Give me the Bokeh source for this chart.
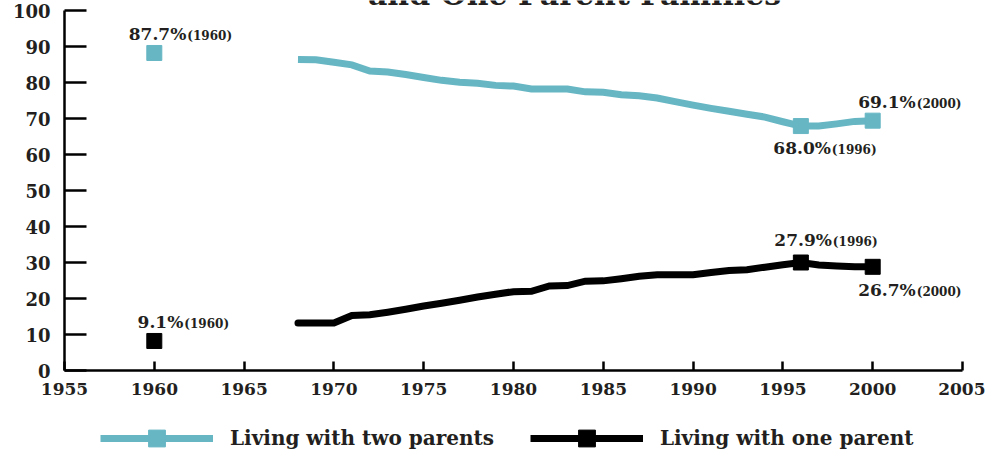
from bokeh.plotting import figure
from bokeh.layouts import column
from bokeh.models import Legend, LegendItem, FixedTicker, ColumnDataSource
from bokeh.core.properties import value
from bokeh.embed import file_html
from bokeh.resources import INLINE

# ---------------- data ----------------
years = list(range(1968, 2001))
two_parents = [86.4, 86.3, 85.6, 84.9, 83.2, 82.9, 82.2, 81.4, 80.6, 80.1, 79.8,
               79.2, 79.0, 78.2, 78.2, 78.2, 77.4, 77.3, 76.6, 76.3, 75.7, 74.7,
               73.7, 72.8, 72.0, 71.2, 70.4, 69.1, 67.9, 67.9, 68.5, 69.2, 69.4]
one_parent = [13.2, 13.2, 13.2, 15.3, 15.5, 16.2, 17.0, 17.9, 18.7, 19.5, 20.4,
              21.2, 21.9, 22.0, 23.5, 23.6, 24.8, 24.9, 25.5, 26.2, 26.6, 26.6,
              26.6, 27.2, 27.8, 28.0, 28.7, 29.4, 30.0, 29.3, 29.0, 28.8, 28.8]
two_1960 = 88.2
one_1960 = 8.2

marker_years = [1960, 1996, 2000]
two_markers = [two_1960, two_parents[years.index(1996)], two_parents[years.index(2000)]]
one_markers = [one_1960, one_parent[years.index(1996)], one_parent[years.index(2000)]]

ann_main = ["87.7%", "68.0%", "69.1%", "9.1%", "27.9%", "26.7%"]
ann_year = ["(1960)", "(1996)", "(2000)", "(1960)", "(1996)", "(2000)"]
ann_x = marker_years + marker_years
ann_y = two_markers + one_markers

x_ticks = [1955, 1960, 1965, 1970, 1975, 1980, 1985, 1990, 1995, 2000, 2005]
y_ticks = [0, 10, 20, 30, 40, 50, 60, 70, 80, 90, 100]

title_text = "and One Parent Families"
legend_labels = ["Living with two parents", "Living with one parent"]

# ---------------- style ----------------
TEAL = "#66B6C4"
DARK = "#231F20"
FONT = "DejaVu Serif"
ann_dx = [32, 30, 43, 29, 31, 43]
ann_dy = [-19, 22, -19, -18.5, -23, 23.5]

# frame reaches the canvas top so the (cropped) title line can show above 100
Y_TOP = 100 * 370 / 360
p = figure(width=985, height=405, x_range=(1955, 2005), y_range=(0, Y_TOP),
           output_backend="svg", toolbar_location=None,
           min_border_left=64, min_border_right=23, min_border_top=0,
           min_border_bottom=35)
p.outline_line_color = None
p.xgrid.visible = False
p.ygrid.visible = False
p.background_fill_color = "white"
p.border_fill_color = "white"

for ax in (p.xaxis[0], p.yaxis[0]):
    ax.axis_line_width = 2.5
    ax.axis_line_color = "black"
    ax.major_tick_line_width = 2.5
    ax.major_tick_line_color = "black"
    ax.minor_tick_line_color = None
    ax.major_tick_out = 0
    ax.major_label_text_font = FONT
    ax.major_label_text_font_style = "bold"
    ax.major_label_text_color = DARK

p.xaxis.ticker = FixedTicker(ticks=x_ticks)
p.yaxis.ticker = FixedTicker(ticks=y_ticks)
p.yaxis.bounds = (0, 100)
p.xaxis.major_tick_in = 9
p.yaxis.major_tick_in = 22
p.xaxis.major_label_text_font_size = "17px"
p.xaxis.major_label_standoff = 12
p.yaxis.major_label_text_font_size = "18px"
p.yaxis.major_label_standoff = 14

l1 = p.line(years, two_parents, line_color=TEAL, line_width=7, line_join="miter")
s1 = p.scatter(marker_years, two_markers, marker="square", size=15,
               fill_color=TEAL, line_color=TEAL)
l2 = p.line(years, one_parent, line_color="black", line_width=7, line_join="miter",
            line_cap="round")
s2 = p.scatter(marker_years, one_markers, marker="square", size=15,
               fill_color="black", line_color="black")

src = ColumnDataSource(dict(x=ann_x, y=ann_y, main=ann_main, yr=ann_year,
                            dx=ann_dx, dx2=[d + 1 for d in ann_dx], dy=ann_dy,
                            dy2=[d + 2 for d in ann_dy]))
p.text(x="x", y="y", text="main", x_offset="dx", y_offset="dy", source=src,
       text_align="right", text_baseline="middle", text_font=value(FONT),
       text_font_style="bold", text_font_size="17px", text_color=DARK)
p.text(x="x", y="y", text="yr", x_offset="dx2", y_offset="dy2", source=src,
       text_align="left", text_baseline="middle", text_font=value(FONT),
       text_font_style="bold", text_font_size="12px", text_color=DARK)

# second title line, cut by the top edge as in the reference
p.text(x=[1983.4], y=[100], y_offset=[-16], text=[title_text], text_align="center",
       text_baseline="middle", text_font=value(FONT),
       text_font_style="bold", text_font_size="30px", text_color=DARK)

# ---------------- legend strip ----------------
q = figure(width=985, height=45, x_range=(0, 1), y_range=(0, 1),
           output_backend="svg", toolbar_location=None, min_border=0,
           x_axis_location=None, y_axis_location=None)
q.grid.visible = False
q.outline_line_color = None
# same series, outside this strip's ranges: only their legend glyphs show
ql1 = q.line(years, two_parents, line_color=TEAL, line_width=7)
qs1 = q.scatter(marker_years, two_markers, marker="square", size=17,
                fill_color=TEAL, line_color=TEAL)
ql2 = q.line(years, one_parent, line_color="black", line_width=7)
qs2 = q.scatter(marker_years, one_markers, marker="square", size=17,
                fill_color="black", line_color="black")
legend = Legend(items=[LegendItem(label=legend_labels[0], renderers=[ql1, qs1]),
                       LegendItem(label=legend_labels[1], renderers=[ql2, qs2])],
                orientation="horizontal", location=(36, -9),
                glyph_width=113, glyph_height=42, label_standoff=17, spacing=36,
                padding=0, margin=0, border_line_color=None,
                background_fill_alpha=0, label_text_font=FONT,
                label_text_font_style="bold", label_text_font_size="20px",
                label_text_color=DARK, label_height=20)
q.add_layout(legend)

open("out.html", "w").write(file_html(column(p, q, spacing=0), INLINE))
